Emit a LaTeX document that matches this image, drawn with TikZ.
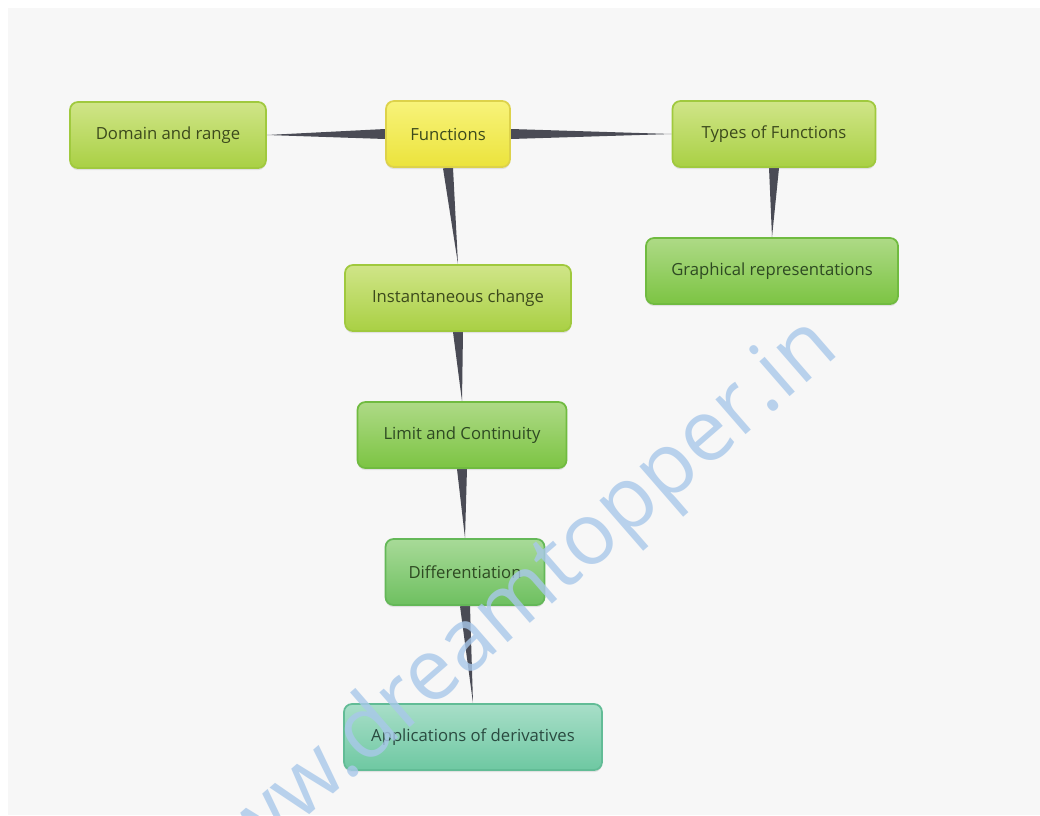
\documentclass[tikz,border=0pt]{standalone}
\usepackage{fontspec}
\setmainfont{Open Sans}
\usetikzlibrary{calc,shadows,backgrounds,positioning}
\definecolor{bggray}{HTML}{F7F7F7}
\definecolor{linkgray}{HTML}{4A4B55}
\definecolor{yellowtop}{HTML}{F8F37A}
\definecolor{yellowbot}{HTML}{EBE33C}
\definecolor{yellowedge}{HTML}{DDD24A}
\definecolor{limetop}{HTML}{D0E588}
\definecolor{limebot}{HTML}{A9D044}
\definecolor{limeedge}{HTML}{A0C93E}
\definecolor{greentop}{HTML}{AEDA86}
\definecolor{greenbot}{HTML}{7CC443}
\definecolor{greenedge}{HTML}{70BB40}
\definecolor{leaftop}{HTML}{A8DA98}
\definecolor{leafbot}{HTML}{6EC060}
\definecolor{leafedge}{HTML}{64B858}
\definecolor{tealtop}{HTML}{A8DEC8}
\definecolor{tealbot}{HTML}{6EC8A2}
\definecolor{tealedge}{HTML}{62BC96}
\definecolor{textolive}{HTML}{3C4A1C}
\definecolor{textgreen}{HTML}{2E4A22}
\definecolor{textteal}{HTML}{2A4A40}
\definecolor{wmblue}{HTML}{A9C8EA}
\tikzset{
  box/.style={rounded corners=4.5pt, line width=1pt, minimum height=1.32cm,
    inner sep=0pt, font=\fontsize{9.5}{11}\selectfont,
    drop shadow={opacity=0.18, shadow xshift=0pt, shadow yshift=-1.2pt}},
  yellowbox/.style={box, draw=yellowedge, top color=yellowtop, bottom color=yellowbot, text=textolive},
  limebox/.style={box, draw=limeedge, top color=limetop, bottom color=limebot, text=textolive},
  greenbox/.style={box, draw=greenedge, top color=greentop, bottom color=greenbot, text=textgreen},
  leafbox/.style={box, draw=leafedge, top color=leaftop, bottom color=leafbot, text=textgreen},
  tealbox/.style={box, draw=tealedge, top color=tealtop, bottom color=tealbot, text=textteal},
  link/.style={fill=linkgray}
}
\newcommand{\taper}[2]{\fill[link] ($(#1)!0.1cm!90:(#2)$) -- ($(#1)!0.1cm!-90:(#2)$) -- (#2) -- cycle;}

\begin{document}
\begin{tikzpicture}[x=0.02cm, y=-0.02cm]
	\useasboundingbox (0,0) rectangle (1040,815);
	\node[yellowbox, minimum width=2.48cm] (functions) at (448,134) {Functions};
	\node[limebox, minimum width=3.92cm] (domain) at (168,135) {Domain and range};
	\node[limebox, minimum width=4.06cm] (types) at (774,134) {Types of Functions};
	\node[greenbox, minimum width=5.04cm] (graphical) at (772,271) {Graphical representations};
	\node[limebox, minimum width=4.52cm] (instant) at (458,298) {Instantaneous change};
	\node[greenbox, minimum width=4.18cm] (limit) at (462,435) {Limit and Continuity};
	\node[leafbox, minimum width=3.18cm] (diff) at (465,572) {Differentiation};
	\node[tealbox, minimum width=5.16cm] (apps) at (473,737) {Applications of derivatives};
	\begin{scope}[on background layer]
		\fill[white] (0,0) rectangle (1040,815);
		\fill[bggray] (8,8) rectangle (1040,815);
		\taper{functions.west}{domain.east}
		\taper{functions.east}{types.west}
		\taper{functions.south}{instant.north}
		\taper{types.south}{graphical.north}
		\taper{instant.south}{limit.north}
		\taper{limit.south}{diff.north}
		\taper{diff.south}{apps.north}
	\end{scope}
	\begin{scope}
		\clip (0,0) rectangle (1040,815);
		\node[rotate=41, anchor=east, text=wmblue, opacity=0.8, font=\fontsize{49}{49}\selectfont] (watermark) at (831,332) {www.dreamtopper.in};
	\end{scope}
\end{tikzpicture}
\end{document}
